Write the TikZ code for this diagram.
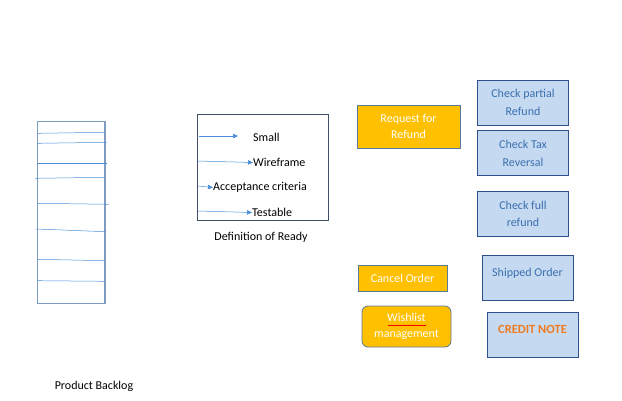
\documentclass[tikz,border=0pt]{standalone}
\usepackage{fontspec}
\setmainfont{Carlito}
\usetikzlibrary{arrows.meta}
\usetikzlibrary{positioning}
\definecolor{laranja}{HTML}{FFC000}
\definecolor{bordacinza}{HTML}{5A7A99}
\definecolor{azulclaro}{HTML}{C5D9F1}
\definecolor{azulborda}{HTML}{2F4F8A}
\definecolor{azultexto}{HTML}{3B6FB0}
\definecolor{azulseta}{HTML}{4A8FD8}
\definecolor{pilha}{HTML}{7E9CC2}
\definecolor{bordador}{HTML}{3F4F6A}
\definecolor{laranjaforte}{HTML}{F07A20}
\tikzset{
  tarefa/.style={draw=bordacinza, line width=0.8pt, fill=laranja, text=white, align=center, inner sep=2pt, font=\fontsize{12}{15.5}\selectfont},
  verif/.style={draw=azulborda, line width=0.8pt, fill=azulclaro, text=azultexto, align=center, minimum width=91pt, minimum height=45pt, inner sep=2pt, font=\fontsize{12}{17.5}\selectfont},
  seta/.style={-{Triangle[length=5pt,width=4.5pt]}, azulseta, line width=0.5pt},
  linha/.style={azulseta, line width=0.5pt},
  rotulo/.style={inner sep=0pt, font=\fontsize{12}{14}\selectfont},
}

\begin{document}
\begin{tikzpicture}[x=1pt, y=-1pt]
  \useasboundingbox (0,0) rectangle (622,400);
  % product backlog
  \draw[pilha, line width=1.5pt] (37.7,121.7) rectangle (105,303.3);
  \draw[linha] (37.7,133.3) -- (105,132.3);
  \draw[linha] (37.7,143.3) -- (106.7,142.3);
  \draw[linha] (37.7,163.3) -- (107.3,163.3);
  \draw[linha] (35,178.3) -- (105,177.3);
  \draw[linha] (37.7,203.3) -- (108.7,204.3);
  \draw[linha] (36,229) -- (106,231.7);
  \draw[linha] (37.7,259.3) -- (105,260.7);
  \draw[linha] (37.7,280.7) -- (105,281.3);
  \node[rotulo] (backlog) at (94,386) {Product Backlog};

  % definition of ready
  \node[draw=bordador, line width=0.8pt, minimum width=131pt, minimum height=106pt] (dor) at (262.5,167) {};
  \node[rotulo] (dortitulo) at (261,237) {Definition of Ready};
  \node[rotulo, anchor=west] (small) at (253,137) {Small};
  \node[rotulo, anchor=west] (wire) at (253,162.5) {Wireframe};
  \node[rotulo, anchor=west] (acc) at (213,187.5) {Acceptance criteria};
  \node[rotulo, anchor=west] (test) at (252,212.5) {Testable};
  \coordinate (s1) at (199,136);
  \coordinate (s2) at (198,161);
  \coordinate (s3) at (198,186);
  \coordinate (s4) at (198,211);
  \draw[seta, shorten >=15pt] (s1) -- (small.west |- s1);
  \draw[seta] (s2) -- (wire.west);
  \draw[seta] (s3) -- (acc.west);
  \draw[seta] (s4) -- (test.west);

  % features
  \node[tarefa, minimum width=103pt, minimum height=43pt] (pedido) at (408.5,126.5) {Request for\\Refund};
  \node[tarefa, minimum width=89pt, minimum height=26pt] (cancelar) at (402.5,278) {Cancel Order};
  \node[tarefa, rounded corners=6pt, minimum width=89pt, minimum height=41pt, font=\fontsize{12}{16}\selectfont] (desejos) at (406.5,326.5) {Wishlist\\management};
  \draw[red, line width=0.6pt] (387.5,325.5) -- (426,325.5);

  \node[verif] (parcial) at (523,102.5) {Check partial\\Refund};
  \node[verif, below=5pt of parcial] (imposto) {Check Tax\\Reversal};
  \node[verif, below=15pt of imposto] (total) {Check full\\refund};
  \node[verif] (enviado) at (527.5,277.5) {};
  \node[rotulo, text=azultexto] (enviadotxt) at (527.5,273) {Shipped Order};
  \node[verif] (credito) at (532.5,334.5) {};
  \node[rotulo, text=laranjaforte, font=\fontsize{12.5}{14}\selectfont\bfseries] (creditotxt) at (532.5,329) {CREDIT NOTE};
\end{tikzpicture}
\end{document}
